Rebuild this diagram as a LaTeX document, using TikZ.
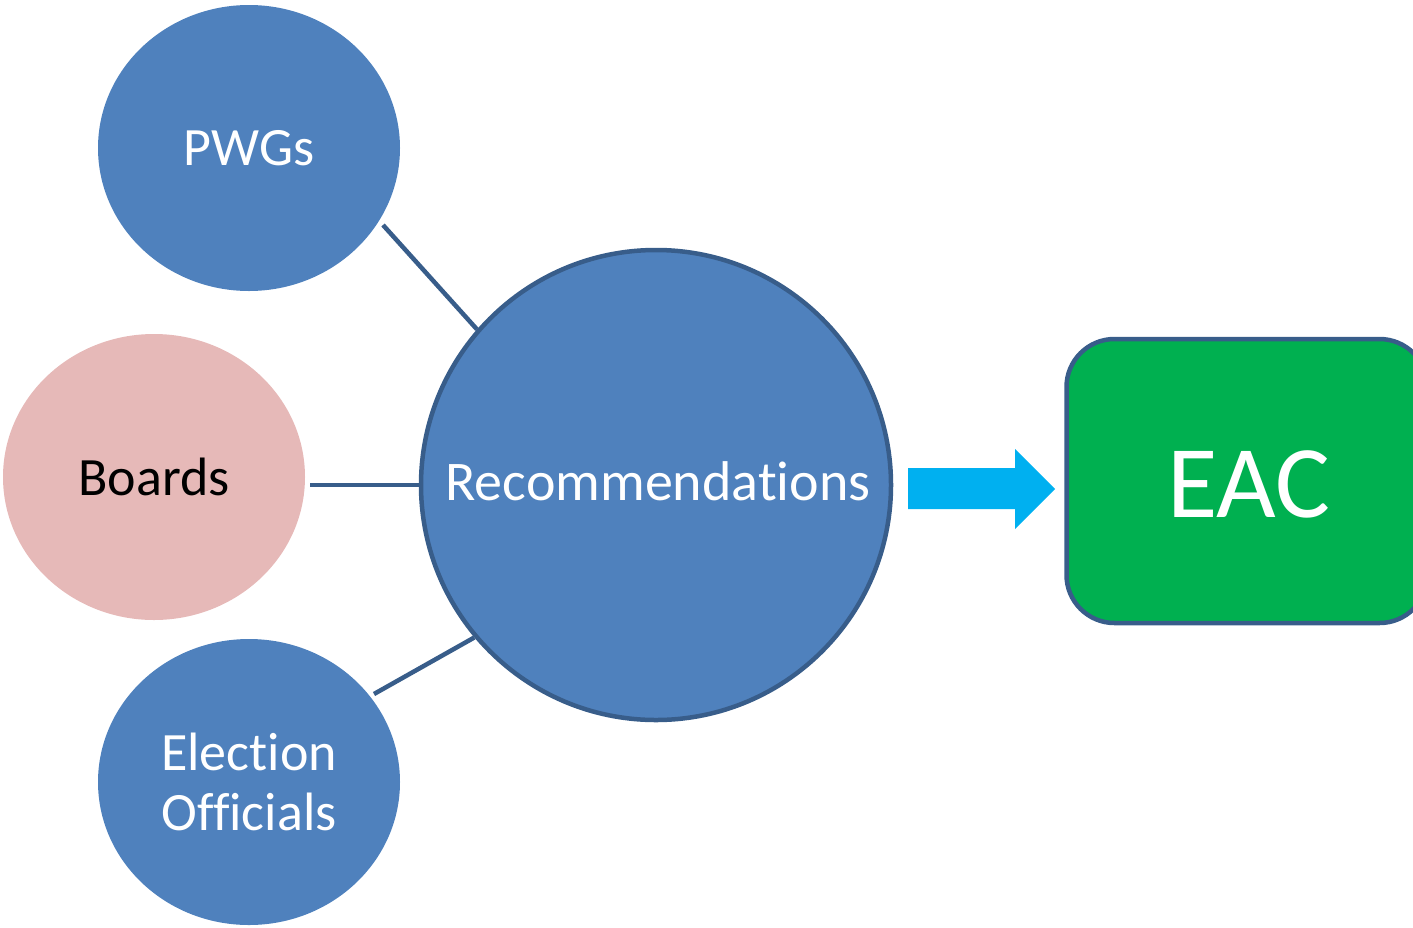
\documentclass[tikz,border=0pt]{standalone}
\usepackage{fontspec}
\setmainfont[Ligatures={NoCommon}]{Carlito}
\usetikzlibrary{shapes.geometric}
\definecolor{bluefill}{HTML}{4F81BD}
\definecolor{blueline}{HTML}{385D8A}
\definecolor{pinkfill}{HTML}{E6B9B8}
\definecolor{greenfill}{HTML}{00B050}
\definecolor{cyanarrow}{HTML}{00B0F0}
\begin{document}
\begin{tikzpicture}[x=1pt,y=-1pt,
  blob/.style={ellipse, minimum width=302pt, minimum height=286pt, inner sep=0pt, text=white,
    font=\fontsize{54}{60}\selectfont},
  conn/.style={draw=blueline, line width=4.5pt},
  bigcircle/.style={circle, fill=bluefill, draw=blueline, line width=4.5pt, minimum size=470pt,
    inner sep=0pt, text=white, font=\fontsize{56}{60}\selectfont},
  eacbox/.style={rectangle, rounded corners=48pt, fill=greenfill, draw=blueline, line width=4.5pt,
    minimum width=361pt, minimum height=284pt, inner sep=0pt, text=white,
    font=\fontsize{103}{110}\selectfont},
  blockarrow/.style={fill=cyanarrow}]
\useasboundingbox (0,0) rectangle (1413,927);
\clip (0,0) rectangle (1413,927);
\node[blob, fill=bluefill] (pwg) at (249,148) {PWGs};
\node[blob, fill=pinkfill, text=black] (boards) at (154,477) {Boards};
\node[blob, fill=bluefill, align=center] (eo) at (249,782) {Election\\Officials};
\node[bigcircle] (rec) at (656,485) {};
\node[text=white, font=\fontsize{56}{60}\selectfont] (rectext) at (658,481) {Recommendations};
\node[eacbox] (eac) at (1247,481) {};
\node[text=white, font=\fontsize{103}{110}\selectfont] (eactext) at (1249,484) {EAC};
\coordinate (pwgend) at (383,225);
\coordinate (boardsend) at (310,485);
\coordinate (eoend) at (374,694);
\draw[conn] (pwgend) -- (rec.139);
\draw[conn] (boardsend) -- (rec.180);
\draw[conn] (eoend) -- (rec.220);
\fill[blockarrow] (908,468) -- (1015,468) -- (1015,449) -- (1055,489) -- (1015,529) -- (1015,509) -- (908,509) -- cycle;
\end{tikzpicture}
\end{document}
